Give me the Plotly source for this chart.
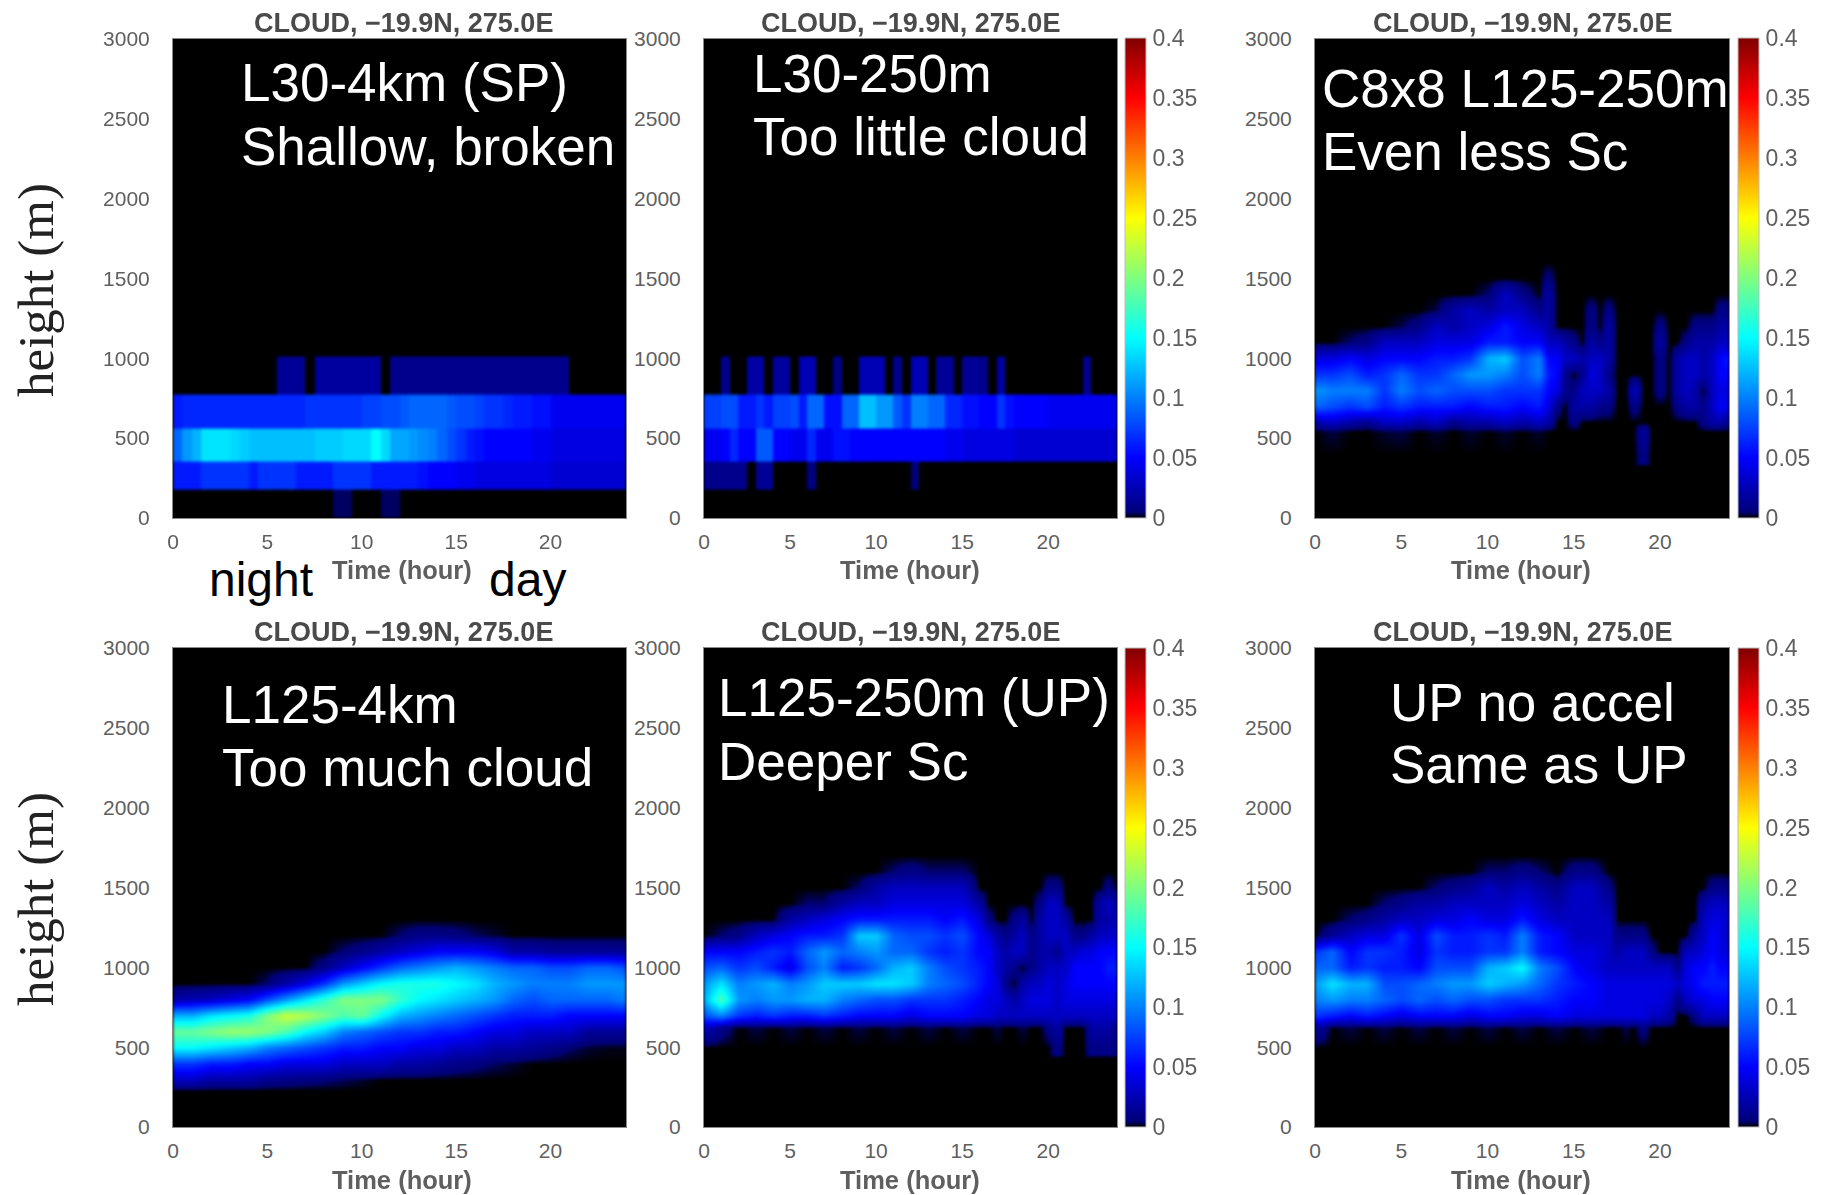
import numpy as np
import plotly.graph_objects as go

# Data: cloud fraction in percent (0.01 of the colour-bar units)
band_edges = [0, 180, 350, 560, 775, 1010]
half_hour_edges = [i * 0.5 for i in range(49)]

l30_4km = [
 [0,0,0,0,0,0,0,0, 0,0,0,0,0,0,0,0, 0,.4,.4,0,0,0,.4,.4, 0,0,0,0,0,0,0,0, 0,0,0,0,0,0,0,0, 0,0,0,0,0,0,0,0],
 [6,6,6,7,7,7,7,7, 6,7,7,7,7,6,6,6, 6,7,7,7,7,6,6,6, 6,6,5.5,5,5,5,4.5,4.5, 4,4,4,4,4,4,4,4, 3.5,3.5,3.5,3.5,3.5,3.5,3.5,3.5],
 [9,11,12,14,14,14,13.5,13, 12.5,12.5,12.5,12.5,12.5,12.5,12.5,13, 13,13,13.5,13.5,13.5,15,13.5,11.5, 11.5,11,10.5,10,9,8,7,6, 5.5,5,5,5,5,5,4.5,4.5, 4,4,4,4,4,4,4,4],
 [6,6.5,6.5,6.5,6.5,6.5,6.5,6.5, 6.5,6.5,6.5,6.5,6.5,6.5,7,7, 7,7,7,7,7.5,7.5,8,8, 8.5,9,9,9,9,8.5,8,8, 7.5,7,7,6.5,6,6,5.5,5.5, 4.5,4.5,4.5,4.5,4.5,4.5,4.5,4.5],
 [0,0,0,0,0,0,0,0, 0,0,0,1.5,1.5,1.5,0,1.8, 1.8,1.8,1.8,1.8,1.8,1.8,0,1.2, 1.2,1.2,1.2,1.2,1.2,1.2,1.2,1.2, 1.2,1.2,1.2,1.2,1.2,1.2,1.2,1.2, 1.2,1.2,0,0,0,0,0,0],
]
l30_250m = [
 [0,0,0,0,0,0,0,0, 0,0,0,0,0,0,0,0, 0,0,0,0,0,0,0,0, 0,0,0,0,0,0,0,0, 0,0,0,0,0,0,0,0, 0,0,0,0,0,0,0,0],
 [1.2,1.2,1.2,1.2,1.2,0,1.5,1.5, 0,0,0,0,.8,0,0,0, 0,0,0,0,0,0,0,0, .5,0,0,0,0,0,0,0, 0,0,0,0,0,0,0,0, 0,0,0,0,0,0,0,0],
 [4.5,4.5,5,6.5,5,5,8.5,8.5, 5,5,4.5,4.5,6.5,4.5,4.5,5.5, 5.5,5,5,5,5,5,5,5, 5,5,5,5,4.5,4.5,4,4, 4,4,4,4,3.5,3.5,3.5,3.5, 3.5,3.5,3.5,3.5,3.5,3.5,3.5,3.5],
 [7.5,7.5,8,8,6,6,7,6, 7.5,7.5,8,6,9,9,5.5,5.5, 9,9,12.5,12.5,11,11,8.5,7, 10,10,9,9,6.5,6.5,5.5,5.5, 5,5,7,5.5,5,5,5,5, 4.5,4.5,4.5,4.5,4.5,4.5,4.5,4.5],
 [0,0,1.2,0,0,2,2,0, 1.8,1.8,0,2.5,2.5,0,0,1, 0,0,2.5,2.5,2.5,0,1.2,0, 2.5,2.5,0,1.5,1.5,0,1.5,1.5, 1.2,0,2,0,0,0,0,0, 0,0,0,0,1.2,0,0,0],
]

# Each inner list is one time column, low height to high height
hours_c8 = [0,1,2,3,4,5,6,7,8,9,10,11,12,13,13.5,14,14.5,15,15.5,16,16.5,17,17.5,18,18.5,19,19.5,20,20.5,21,21.5,22,22.5,23,23.5,24]
heights_c8 = [400,540,600,700,800,900,1000,1100,1200,1300,1400,1500,1600]
c8x8_by_hour = [
 [0,0,2,9,11,7,4,0,0,0,0,0,0],
 [0,.3,3,8,10,7,4,0,0,0,0,0,0],
 [0,0,2,7,10,8,5,.5,0,0,0,0,0],
 [0,0,1,8,10,6,4,1,0,0,0,0,0],
 [0,.2,3,6,7,7,5,3,0,0,0,0,0],
 [0,.3,3,7,10,9,5,3,.3,0,0,0,0],
 [0,0,2,6,8,7,5,3,1,0,0,0,0],
 [0,.2,3,6,9,7,6,4,3,.3,0,0,0],
 [0,0,1,6,8,9,6,4,2,2,0,0,0],
 [0,.2,2,5,8,11,7,4,3,3,0,0,0],
 [0,0,2,6,8,11,12,6,4,2,.5,0,0],
 [0,.2,3,6,7,10,13,6,6,3,3,0,0],
 [0,0,2,5,7,8,8,5,4,3,1,0,0],
 [0,.2,3,6,7,10,10,5,3,1,0,0,0],
 [0,0,2,4,5,6,5,3,2,2,2,.8,0],
 [0,0,0,1,4,5,5,3,0,0,0,0,0],
 [0,0,0,0,1,1,3,2,0,0,0,0,0],
 [0,0,1,2,1,0,3,1,0,0,0,0,0],
 [0,0,0,2,3,1,2,0,0,0,0,0,0],
 [0,0,0,2,3,4,3,2,1,1,0,0,0],
 [0,0,0,1,3,3,3,1,0,0,0,0,0],
 [0,0,0,1,2,1,2,2,2,1,0,0,0],
 [0,0,0,0,0,0,0,0,0,0,0,0,0],
 [0,0,0,0,0,0,0,0,0,0,0,0,0],
 [0,0,0,1,3,0,0,0,0,0,0,0,0],
 [1,2,0,0,0,0,0,0,0,0,0,0,0],
 [0,0,0,0,0,0,0,0,0,0,0,0,0],
 [0,0,0,0,1,1,1,2,1,0,0,0,0],
 [0,0,0,0,0,0,0,0,0,0,0,0,0],
 [0,0,0,1,2,2,2,0,0,0,0,0,0],
 [0,0,0,2,3,3,3,1,0,0,0,0,0],
 [0,0,0,2,2,3,3,2,1,0,0,0,0],
 [0,0,1,1,0,2,2,2,1,0,0,0,0],
 [0,0,2,3,3,3,3,2,1,0,0,0,0],
 [0,0,2,5,4,5,5,3,2,1,0,0,0],
 [0,0,1,4,4,5,6,3,2,1,0,0,0],
]

hours_l125_4km = list(range(25))
heights_l125_4km = [230,300,400,500,600,700,800,900,1000,1100,1200,1300]
l125_4km_by_hour = [
 [0,3,7,15,19,12,2,0,0,0,0,0],
 [0,3,7,15,19,12,2.5,0,0,0,0,0],
 [0,2,6,14,20,14,3,0,0,0,0,0],
 [0,2,6,13,21,15,4,0,0,0,0,0],
 [0,2,5,12,21,16,5,0,0,0,0,0],
 [0,1.2,5,10,20,20,8,.5,0,0,0,0],
 [0,1,4,9,18,23,11,2,0,0,0,0],
 [0,.8,4,8,15,22,14,4,0,0,0,0],
 [0,.6,4,7,13,20,17,7,1,0,0,0],
 [0,.4,3,6,10,18,20,11,3,.5,0,0],
 [0,.2,3,6,9,19,20,13,5,1,0,0],
 [0,0,3,5,8,15,20,15,7,2,0,0],
 [0,0,2,5,7,12,17,16,9,3,.5,0],
 [0,0,2,4,7,11,15,16,10,4,1,0],
 [0,0,1.5,4,6,10,14,16,11,5,1,0],
 [0,0,1,3,6,9,13,15,12,5,.8,0],
 [0,0,.7,3,5,8,12,14,11,5,.4,0],
 [0,0,.4,2,4,7,11,12,10,4,.2,0],
 [0,0,.2,2,4,6,9,11,9,2,0,0],
 [0,0,0,1.5,3,6,8,10,9,2,0,0],
 [0,0,0,1,3,6,9,10,8,1.5,0,0],
 [0,0,0,.5,3,5,9,10,8,1.5,0,0],
 [0,0,0,.2,1.5,5,9,11,9,1.5,0,0],
 [0,0,0,.1,1.5,5,9,11,9,1.5,0,0],
 [0,0,0,.1,1.5,5,10,11,8,1.5,0,0],
]

hours_up = [0,1,2,3,4,5,6,7,8,9,10,11,12,13,14,15,16,16.5,17,17.5,18,18.5,19,19.5,20,20.5,21,21.5,22,22.5,23,23.5,24]
heights_up = [500,620,700,800,900,1000,1100,1200,1300,1400,1500,1600,1700]
l125_250m_by_hour = [
 [0,3,8,12,11,8,5,0,0,0,0,0,0],
 [0,1,10,18,14,9,5,.5,0,0,0,0,0],
 [0,0,7,11,10,7,5,1,0,0,0,0,0],
 [0,.3,6,10,11,8,6,3,0,0,0,0,0],
 [0,0,7,11,12,6,7,4,0,0,0,0,0],
 [0,.3,6,11,10,4,6,5,2,0,0,0,0],
 [0,0,6,12,11,8,9,6,3,.5,0,0,0],
 [0,.3,7,12,13,10,11,6,4,.5,0,0,0],
 [0,0,6,10,13,6,9,7,5,2,0,0,0],
 [0,.3,5,9,13,7,10,13,6,3,.5,0,0],
 [0,0,5,8,14,9,11,13,6,3,2,0,0],
 [0,.3,5,8,14,12,9,9,6,4,3,.5,0],
 [0,0,4,7,13,13,9,8,6,4,3,1,0],
 [0,.3,5,7,10,10,7,8,6,4,3,.5,0],
 [0,0,5,7,9,8,6,7,5,4,3,.5,0],
 [0,.3,5,6,8,7,7,8,6,4,3,.5,0],
 [0,0,4,5,6,6,5,5,4,2,0,0,0],
 [0,0,4,4,5,5,5,4,1,0,0,0,0],
 [0,.3,3,4,4,3,3,2,0,0,0,0,0],
 [0,0,3,3,1,2,2,1,0,0,0,0,0],
 [0,0,3,2,0,1,3,2,1,0,0,0,0],
 [0,.3,3,3,2,0,3,3,2,0,0,0,0],
 [0,0,3,4,3,1,1,1,0,0,0,0,0],
 [0,0,3,4,3,2,2,2,2,1,0,0,0],
 [0,1,3,4,4,3,2,3,3,3,1,0,0],
 [1,2,3,3,3,3,1,3,3,3,1,0,0],
 [0,0,3,4,4,3,3,3,2,0,0,0,0],
 [0,0,3,4,5,5,3,1,0,0,0,0,0],
 [0,0,3,4,5,5,4,1,0,0,0,0,0],
 [1,2,3,4,5,5,4,2,0,0,0,0,0],
 [1,2,3,4,5,5,5,3,2,2,0,0,0],
 [1,2,3,4,5,6,5,3,2,3,1,0,0],
 [1,1,3,4,5,6,5,4,3,2,0,0,0],
]

hours_no_accel = [0,1,2,3,4,5,6,7,8,9,10,11,12,13,14,15,16,17,17.5,18,18.5,19,19.5,20,20.5,21,21.5,22,22.5,23,23.5,24]
up_no_accel_by_hour = [
 [0,2,7,10,11,9,7,0,0,0,0,0,0],
 [0,0,6,11,14,9,9,1.5,0,0,0,0,0],
 [0,.3,5,10,12,6,5,3,.5,0,0,0,0],
 [0,0,6,10,12,7,7,4,1,0,0,0,0],
 [0,.3,5,9,8,6,7,4,2,.5,0,0,0],
 [0,0,4,8,8,6,6,7,3,1,0,0,0],
 [0,.3,5,9,9,5,4,4,3,2,0,0,0],
 [0,0,5,8,10,8,7,8,4,2,.5,0,0],
 [0,.3,5,9,11,8,6,6,4,3,1,0,0],
 [0,0,4,8,11,8,6,6,5,3,1.5,0,0],
 [0,.3,5,8,13,12,7,7,4,3,3,.5,0],
 [0,0,5,7,12,13,7,6,4,3,2,.5,0],
 [0,.3,4,7,11,15,10,10,6,4,3,1,0],
 [0,0,4,7,9,10,6,6,4,3,2,.5,0],
 [0,.3,5,6,7,8,5,5,3,2,1,0,0],
 [0,0,4,5,6,5,4,3,3,3,3,1,0],
 [0,.3,4,5,5,4,4,3,3,3,3,1,0],
 [0,0,4,4,4,3,3,3,3,2,1,0,0],
 [0,0,4,4,4,3,2,1,0,0,0,0,0],
 [0,.3,4,4,4,3,3,1,0,0,0,0,0],
 [0,0,4,4,4,3,3,1,0,0,0,0,0],
 [0,1,4,4,4,3,3,1,0,0,0,0,0],
 [0,0,3,4,4,3,1,0,0,0,0,0,0],
 [0,0,3,4,4,3,0,0,0,0,0,0,0],
 [0,0,2,3,4,3,0,0,0,0,0,0,0],
 [0,0,0,1,3,1,0,0,0,0,0,0,0],
 [0,0,0,3,4,4,3,0,0,0,0,0,0],
 [0,0,1,4,5,5,3,2,0,0,0,0,0],
 [0,0,3,4,6,5,4,3,3,2,0,0,0],
 [0,0,3,5,6,6,5,5,4,3,1,0,0],
 [0,0,3,5,6,5,4,4,4,3,1,0,0],
 [0,0,3,5,6,5,4,3,3,3,1,0,0],
]

y_ticks = [0, 500, 1000, 1500, 2000, 2500, 3000]
x_ticks = [0, 5, 10, 15, 20]
cbar_values = [0, .05, .1, .15, .2, .25, .3, .35, .4]
cbar_labels = ["0", "0.05", "0.1", "0.15", "0.2", "0.25", "0.3", "0.35", "0.4"]
plot_title = "CLOUD, −19.9N, 275.0E"
x_label = "Time (hour)"
y_label = "height (m)"

W, H = 1824, 1195
GREY = "#5f5f5f"
SANS = "Liberation Sans"

jet_black = [
 [0, "#000000"], [0.0125, "#000078"], [0.125, "#0000ff"], [0.375, "#00ffff"],
 [0.625, "#ffff00"], [0.875, "#ff0000"], [1, "#800000"],
]

ROW_Y = [(38.5, 518), (648, 1127)]
COL_X = [(173, 626), (704, 1117), (1315, 1729)]
CBAR_X = {1: 1125, 2: 1738}
CBAR_W = 21

def by_height(cols):
    return (np.array(cols, dtype=float).T / 100).tolist()

panels = [
 (0, 0, half_hour_edges, band_edges, (np.array(l30_4km) / 100).tolist(), False),
 (0, 1, half_hour_edges, band_edges, (np.array(l30_250m) / 100).tolist(), False),
 (0, 2, hours_c8, heights_c8, by_height(c8x8_by_hour), "best"),
 (1, 0, hours_l125_4km, heights_l125_4km, by_height(l125_4km_by_hour), "best"),
 (1, 1, hours_up, heights_up, by_height(l125_250m_by_hour), "best"),
 (1, 2, hours_no_accel, heights_up, by_height(up_no_accel_by_hour), "best"),
]

fig = go.Figure()
layout = {}
annotations = []

def note(text, px, py, size, color="#000000", family=SANS, anchor="left", angle=0, bold=False):
    annotations.append(dict(
        text=f"<b>{text}</b>" if bold else text, x=px / W, y=1 - py / H, xref="paper", yref="paper",
        xanchor=anchor, yanchor="middle", showarrow=False, textangle=angle,
        font=dict(size=size, color=color, family=family)))

for i, (r, c, x, y, z, smooth) in enumerate(panels, start=1):
    x0, x1 = COL_X[c]
    y0, y1 = ROW_Y[r]
    suffix = "" if i == 1 else str(i)
    trace = dict(
        x=x, y=y, z=z, xaxis=f"x{suffix}", yaxis=f"y{suffix}",
        zmin=0, zmax=0.4, colorscale=jet_black, showscale=c > 0, hoverinfo="skip",
        zsmooth=smooth,
    )
    if c > 0:
        trace["colorbar"] = dict(
            x=CBAR_X[c] / W, xanchor="left", xpad=0, ypad=0,
            y=1 - ((y0 + y1) / 2) / H, yanchor="middle",
            lenmode="pixels", len=y1 - y0, thicknessmode="pixels", thickness=CBAR_W,
            outlinecolor="#bbbbbb", outlinewidth=1, borderwidth=0,
            tickmode="array", tickvals=cbar_values, ticktext=cbar_labels,
            ticks="outside", ticklen=2, tickcolor="rgba(0,0,0,0)", ticklabelposition="outside",
            tickfont=dict(size=23, color=GREY, family=SANS),
        )
    fig.add_trace(go.Heatmap(**trace))
    common = dict(showgrid=False, zeroline=False, showline=True, linecolor="#8a8a8a", linewidth=1, mirror=True, ticks="")
    layout[f"xaxis{suffix}"] = dict(
        domain=[x0 / W, x1 / W], range=[0, 24], anchor=f"y{suffix}",
        tickmode="array", tickvals=x_ticks, ticklabelstandoff=5,
        tickfont=dict(size=21, color=GREY, family=SANS), **common)
    layout[f"yaxis{suffix}"] = dict(
        domain=[1 - y1 / H, 1 - y0 / H], range=[0, 3000], anchor=f"x{suffix}",
        tickmode="array", tickvals=y_ticks, ticklabelstandoff=18,
        tickfont=dict(size=21, color=GREY, family=SANS), **common)
    xc = (x0 + x1) / 2 + (3.5 if c == 0 else 0)
    note(plot_title, xc, y0 - 15.5 - (1 if r == 1 else 0), 27, "#4a4a4a", anchor="center", bold=True)
    note(x_label, xc - 1, y1 + 52 + (1 if r == 1 else 0), 25.5, GREY, anchor="center", bold=True)

note(y_label, 36, 290, 51, "#222222", family="Liberation Serif", anchor="center", angle=-90)
note(y_label, 36, 899, 51, "#222222", family="Liberation Serif", anchor="center", angle=-90)

WHITE = "#ffffff"
BIG = 53
for text, px, py in [
    ("L30-4km (SP)", 238.5, 83), ("Shallow, broken", 238.5, 147),
    ("L30-250m", 750.5, 73.5), ("Too little cloud", 750.5, 136.5),
    ("C8x8 L125-250m", 1319.5, 88), ("Even less Sc", 1319.5, 151),
    ("L125-4km", 219.5, 704), ("Too much cloud", 219.5, 767),
    ("L125-250m (UP)", 715.5, 697), ("Deeper Sc", 715.5, 761),
    ("UP no accel", 1387.5, 702), ("Same as UP", 1387.5, 765),
]:
    note(text, px, py, BIG, WHITE)
note("night", 206.5, 579, 48)
note("day", 486.5, 579, 48)

fig.update_layout(
    width=W, height=H, margin=dict(l=0, r=0, t=0, b=0, autoexpand=False),
    paper_bgcolor="#ffffff", plot_bgcolor="#000000", showlegend=False,
    annotations=annotations, **layout,
)
soften = """
document.body.style.margin='0';
var s=document.createElement('style');
s.textContent=".heatmaplayer image{filter:blur(1.6px);}"
 +".xtick text,.ytick text,.colorbar text{filter:blur(0.6px);}"
 +".annotation-text[data-unformatted*='CLOUD'],.annotation-text[data-unformatted*='Time']{filter:blur(0.6px);}";
document.head.appendChild(s);
"""
fig.write_html("out.html", post_script=soften, config={"displayModeBar": False})
